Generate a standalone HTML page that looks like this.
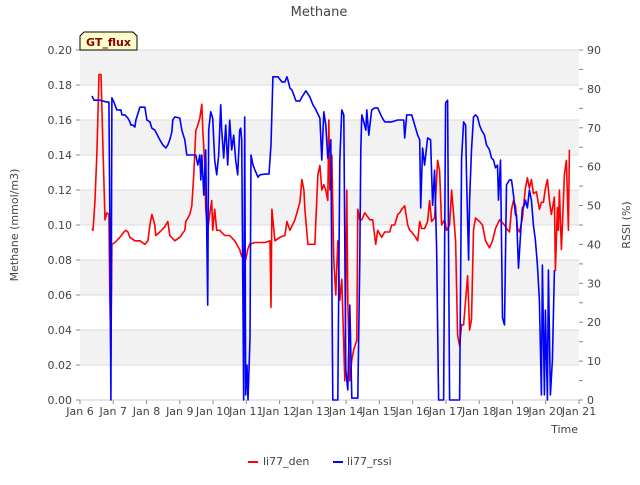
<!DOCTYPE html>
<html><head><meta charset="utf-8"><style>
body{margin:0;background:#fff;}
svg text{font-family:"DejaVu Sans","Liberation Sans",sans-serif;}
</style></head><body>
<svg id="chart" width="640" height="480" xmlns="http://www.w3.org/2000/svg">
<rect x="0" y="0" width="640" height="480" fill="#fff"/>
<g id="bands"></g>
<g id="grid"></g>
<g id="axes"></g>
<g id="series"></g>
<text x="319" y="16" text-anchor="middle" font-size="13" fill="#444">Methane</text>
<text transform="translate(18,225) rotate(-90)" text-anchor="middle" font-size="11" fill="#444">Methane (mmol/m3)</text>
<text transform="translate(630,225) rotate(-90)" text-anchor="middle" font-size="11" fill="#444">RSSI (%)</text>
<text x="578" y="433" text-anchor="end" font-size="11" fill="#444">Time</text>
<g>
<path d="M80,50 L80,36 L84,32 L133,32 L137,36 L137,50 Z" fill="#ffffcc" stroke="#000" stroke-width="1"/>
<text x="108.5" y="46" text-anchor="middle" font-size="11" font-weight="bold" fill="#8b0000">GT_flux</text>
</g>
<g>
<line x1="248" y1="462" x2="258" y2="462" stroke="#f00" stroke-width="2"/>
<text x="263" y="465" font-size="11" fill="#444">li77_den</text>
<line x1="333" y1="462" x2="343" y2="462" stroke="#00f" stroke-width="2"/>
<text x="347" y="465" font-size="11" fill="#444">li77_rssi</text>
</g>
</svg>
<script>
const xTickLabels=["Jan 6","Jan 7","Jan 8","Jan 9","Jan 10","Jan 11","Jan 12","Jan 13","Jan 14","Jan 15","Jan 16","Jan 17","Jan 18","Jan 19","Jan 20","Jan 21"];
const yTicks=[0,0.02,0.04,0.06,0.08,0.10,0.12,0.14,0.16,0.18,0.20];
const y2Ticks=[0,10,20,30,40,50,60,70,80,90];
const denT=[.36,.39,.45,.51,.57,.63,.69,.75,.81,.87,.90,.93,.96,1.05,1.20,1.32,1.38,1.44,1.50,1.65,1.80,1.95,2.04,2.10,2.16,2.25,2.28,2.40,2.55,2.64,2.70,2.85,3.00,3.15,3.18,3.24,3.30,3.36,3.42,3.48,3.54,3.60,3.66,3.69,3.75,3.78,3.84,3.90,3.96,3.99,4.05,4.11,4.20,4.35,4.50,4.65,4.80,4.86,4.92,4.98,5.04,5.10,5.26,5.41,5.56,5.71,5.74,5.77,5.86,6.01,6.16,6.22,6.31,6.46,6.61,6.67,6.73,6.76,6.85,7.06,7.09,7.15,7.21,7.27,7.33,7.39,7.45,7.48,7.51,7.57,7.63,7.69,7.75,7.81,7.87,7.96,8.02,8.05,8.11,8.17,8.23,8.32,8.35,8.41,8.47,8.56,8.71,8.80,8.89,8.95,9.07,9.16,9.31,9.37,9.46,9.55,9.61,9.67,9.76,9.85,9.91,9.97,10.09,10.15,10.21,10.27,10.36,10.45,10.51,10.57,10.66,10.75,10.81,10.87,10.96,11.02,11.11,11.17,11.23,11.29,11.35,11.41,11.47,11.53,11.59,11.65,11.71,11.77,11.83,11.89,12.01,12.10,12.19,12.31,12.40,12.49,12.61,12.76,12.82,12.91,12.97,13.03,13.09,13.15,13.21,13.30,13.39,13.45,13.51,13.57,13.63,13.72,13.81,13.87,13.93,13.99,14.05,14.11,14.17,14.26,14.29,14.35,14.38,14.41,14.47,14.53,14.56,14.62,14.68,14.71];
const denV=[.098,.097,.114,.143,.186,.186,.143,.103,.107,.106,.057,.023,.089,.090,.093,.096,.097,.096,.093,.091,.091,.089,.091,.100,.106,.100,.094,.096,.099,.102,.094,.091,.093,.097,.102,.104,.106,.111,.129,.154,.157,.161,.169,.154,.134,.109,.097,.106,.114,.097,.109,.097,.097,.094,.094,.091,.086,.082,.086,.080,.086,.089,.090,.090,.090,.091,.053,.109,.091,.093,.094,.102,.097,.103,.113,.126,.120,.109,.089,.089,.103,.129,.134,.120,.123,.120,.114,.160,.120,.140,.080,.060,.091,.057,.069,.011,.120,.057,.011,.023,.029,.034,.109,.103,.103,.107,.103,.103,.089,.097,.093,.096,.096,.100,.100,.106,.107,.109,.111,.100,.097,.096,.093,.091,.102,.098,.098,.102,.114,.102,.104,.137,.131,.100,.103,.097,.100,.120,.106,.091,.037,.031,.043,.043,.057,.071,.040,.046,.097,.104,.102,.100,.091,.087,.091,.098,.103,.100,.098,.096,.109,.114,.111,.098,.096,.104,.121,.127,.121,.126,.118,.119,.109,.113,.113,.121,.126,.114,.106,.116,.074,.110,.097,.120,.086,.114,.129,.137,.097,.143];
const rssiT=[.36,.42,.60,.81,.87,.90,.93,.96,1.02,1.05,1.11,1.23,1.26,1.35,1.44,1.50,1.53,1.59,1.65,1.68,1.80,1.95,2.01,2.10,2.16,2.25,2.40,2.49,2.58,2.64,2.70,2.76,2.79,2.85,3.00,3.06,3.15,3.21,3.36,3.48,3.54,3.60,3.63,3.66,3.72,3.78,3.84,3.87,3.93,3.99,4.05,4.11,4.17,4.23,4.26,4.32,4.38,4.44,4.50,4.56,4.62,4.68,4.74,4.80,4.83,4.86,4.92,4.95,4.98,5.02,5.05,5.11,5.14,5.20,5.26,5.35,5.41,5.56,5.68,5.74,5.80,5.95,6.07,6.16,6.22,6.25,6.31,6.37,6.43,6.49,6.61,6.67,6.79,6.91,7.00,7.06,7.21,7.27,7.33,7.39,7.45,7.54,7.60,7.75,7.81,7.87,7.93,7.99,8.05,8.11,8.17,8.35,8.41,8.44,8.47,8.53,8.59,8.62,8.68,8.77,8.86,8.95,9.07,9.16,9.37,9.55,9.73,9.76,9.82,9.97,10.06,10.15,10.21,10.24,10.30,10.36,10.45,10.54,10.60,10.66,10.72,10.78,10.93,10.99,11.05,11.11,11.41,11.47,11.53,11.59,11.62,11.68,11.71,11.77,11.83,11.89,11.95,12.01,12.07,12.16,12.22,12.31,12.37,12.43,12.49,12.55,12.58,12.64,12.70,12.76,12.82,12.91,12.97,13.03,13.09,13.12,13.18,13.24,13.30,13.36,13.39,13.45,13.51,13.57,13.63,13.69,13.75,13.81,13.87,13.90,13.96,13.99,14.05,14.08,14.14,14.20,14.26];
const rssiV=[78.2,77.1,77.1,76.6,76.6,45,0,77.7,76.6,75.9,74.6,74.6,73.3,73.3,72.5,71.5,70.7,70.7,70.2,72,75.3,75.3,72,71.5,69.9,69.4,66.9,65.6,64.8,65.6,66.9,68.9,72,72.8,72.5,69.4,66.9,63,63,63,60.4,63,56.6,63,52.7,64.3,24.4,69.4,74.1,72.5,61.7,57.9,63,75.9,69.4,62.2,70.7,60.4,72,64.3,68.1,61.7,57.9,69.4,69.9,66.9,0,72.8,1.3,9,0,15.9,63,60.4,59.1,57.3,57.9,58.1,58.1,65.6,83.1,83.1,81.8,81.8,83.1,82.3,80.2,79.7,78.4,76.9,76.9,77.9,79.5,77.9,75.9,75.1,72.5,61.7,74.1,70.7,62.2,66.9,0,0,61.7,74.6,73.3,7.7,2.6,24.4,0.5,0.5,36,64.3,73.3,71.5,69.4,74.6,68.1,74.6,75.1,75.1,72.8,71.5,71.5,72,72,67.4,73.3,73.3,70.7,68.1,66.9,49.4,64.8,60.4,67.4,66.9,50.1,59.1,39.1,0,0,76.4,77.1,0,0,62.2,71.5,70.7,56.6,36,51.4,64.3,72.8,73.3,72.8,70.7,69.4,68.1,65.6,64.3,62.2,61.7,59.7,60.4,51.4,61.7,21.1,19.3,55.3,56.6,56.6,52.7,47.6,47.6,33.9,42.4,49.4,50.1,51.4,49.4,54,51.4,45,41.1,34.7,25.7,1.3,34.7,1.3,23.1,0,33.4,1.3,10.3,33.4];

const NS="http://www.w3.org/2000/svg";
const X0=80,X1=579,Y0=400,Y1=50;
function xs(d){return X0+d*(X1-X0)/15;}
function ys(v){return Y0-v*(Y0-Y1)/0.20;}
function ys2(v){return Y0-v*(Y0-Y1)/90;}
function mk(tag,attrs,parent){const e=document.createElementNS(NS,tag);for(const k in attrs)e.setAttribute(k,attrs[k]);parent.appendChild(e);return e;}
const bands=document.getElementById('bands'),grid=document.getElementById('grid'),axes=document.getElementById('axes'),series=document.getElementById('series');
for(let i=0;i<yTicks.length-1;i++){
  if(i%2===1){
    const r=mk('rect',{x:X0,y:ys(yTicks[i+1]),width:X1-X0,height:ys(yTicks[i])-ys(yTicks[i+1]),fill:'#f2f2f2'},bands);
    
    
  }
}
yTicks.forEach(v=>{
  const y=ys(v);
  const g=mk('line',{x1:X0,x2:X1,y1:y,y2:y,stroke:'#dcdcdc','stroke-width':1},grid);
  
  
  mk('line',{x1:X0-4,x2:X0,y1:y,y2:y,stroke:'#888'},axes);
  const t=mk('text',{x:X0-8,y:y+4,'text-anchor':'end','font-size':11,fill:'#444'},axes);
  t.textContent=v.toFixed(2);
  
  
});
for(let v=0;v<=90;v+=5){const y=ys2(v);mk('line',{x1:X1,x2:X1+4,y1:y,y2:y,stroke:'#888'},axes);}
y2Ticks.forEach(v=>{
  const t=mk('text',{x:X1+8,y:ys2(v)+4,'font-size':11,fill:'#444'},axes);
  t.textContent=v;
  
  
});
xTickLabels.forEach((l,i)=>{
  const x=xs(i);
  mk('line',{x1:x,x2:x,y1:Y0,y2:Y0+4,stroke:'#888'},axes);
  const t=mk('text',{x:x,y:Y0+15,'text-anchor':'middle','font-size':11,fill:'#444'},axes);
  t.textContent=l;
  
  
});
mk('line',{x1:X0,x2:X1,y1:Y0,y2:Y0,stroke:'#ccc'},axes);
function poly(T,V,f,color,name){
  const p=mk('polyline',{points:T.map((t,i)=>xs(t).toFixed(1)+','+f(V[i]).toFixed(1)).join(' '),fill:'none',stroke:color,'stroke-width':1.6,'stroke-linejoin':'round'},series);
  
  
}
poly(denT,denV,ys,'#ff0000','li77-den-line');
poly(rssiT,rssiV,ys2,'#0000ff','li77-rssi-line');
</script>
</body></html>
